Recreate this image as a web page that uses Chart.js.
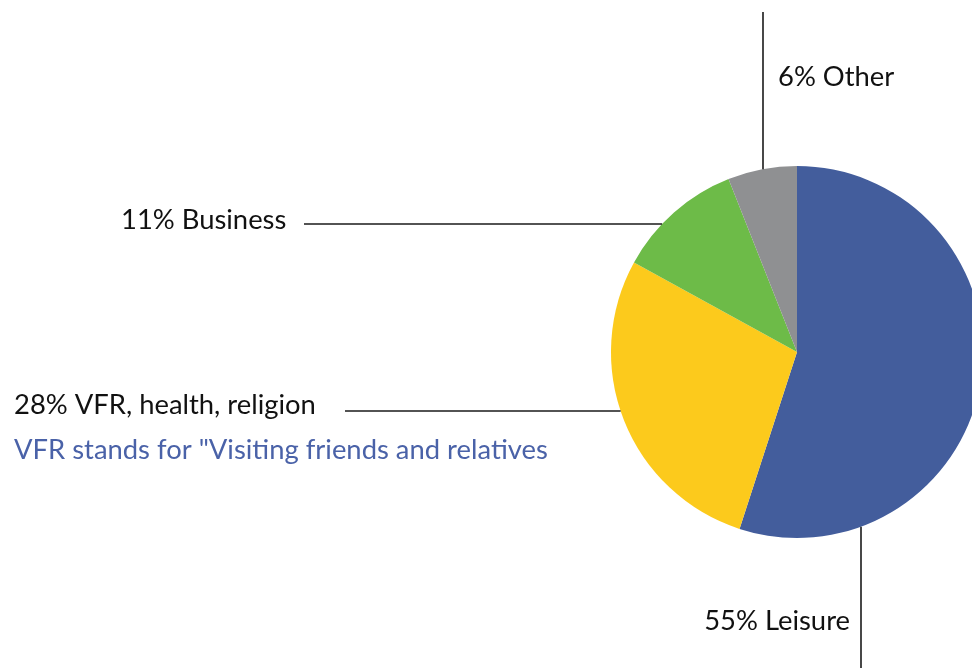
<!DOCTYPE html>
<html lang="en">
<head>
<meta charset="UTF-8">
<title>Purpose of travel</title>
<style>
  html, body { margin: 0; padding: 0; background: #fff; overflow: hidden; }
  .wrap { position: relative; width: 1000px; height: 668px; }
</style>
</head>
<body>
<div class="wrap">
  <canvas id="grafico_pizza" width="1000" height="668"></canvas>
</div>

<script src="https://cdn.jsdelivr.net/npm/chart.js"></script>
<script>
// dados
const categorias = ['Leisure', 'VFR, health, religion', 'Business', 'Other'];
const percentuais = [55, 28, 11, 6];
const cores = ['#435d9c', '#fcca1c', '#6dbb48', '#8f9092'];
const nota = 'VFR stands for "Visiting friends and relatives';

// leader lines: where each line sits and where its text goes
const guias = [
  { dir: 'down',  pos: 861, end: 668, tx: 850, ty: 621, align: 'right' },
  { dir: 'left',  pos: 411, end: 345, tx: 14,  ty: 405, align: 'left' },
  { dir: 'left',  pos: 224, end: 304, tx: 121, ty: 220, align: 'left' },
  { dir: 'up',    pos: 763, end: 12,  tx: 778, ty: 77,  align: 'left' }
];

const fonte = '27.4px Lato, "Open Sans", sans-serif';

const rotulos = {
  id: 'rotulos',
  afterDraw(chart) {
    const c = chart.ctx;
    const arc = chart.getDatasetMeta(0).data[0];
    const cx = arc.x, cy = arc.y, r = arc.outerRadius;
    c.save();
    c.strokeStyle = '#1a1a1a';
    c.lineWidth = 1.6;
    c.font = fonte;
    c.textBaseline = 'middle';
    guias.forEach((g, i) => {
      let x1, y1, x2, y2;
      if (g.dir === 'up' || g.dir === 'down') {
        const d = Math.sqrt(r * r - (g.pos - cx) * (g.pos - cx));
        x1 = x2 = g.pos;
        y1 = g.dir === 'up' ? cy - d : cy + d;
        y2 = g.end;
      } else {
        const d = Math.sqrt(r * r - (g.pos - cy) * (g.pos - cy));
        y1 = y2 = g.pos;
        x1 = cx - d;
        x2 = g.end;
      }
      c.beginPath();
      c.moveTo(x1, y1);
      c.lineTo(x2, y2);
      c.stroke();
      c.fillStyle = '#111';
      c.textAlign = g.align;
      c.fillText(percentuais[i] + '% ' + categorias[i], g.tx, g.ty);
    });
    c.fillStyle = '#4a62a8';
    c.textAlign = 'left';
    c.fillText(nota, 14, 450);
    c.restore();
  }
};

new Chart(document.getElementById('grafico_pizza'), {
  type: 'pie',
  data: {
    labels: categorias,
    datasets: [{
      data: percentuais,
      backgroundColor: cores,
      borderWidth: 0
    }]
  },
  options: {
    responsive: false,
    animation: false,
    layout: { padding: { left: 594, right: 0, top: 166, bottom: 130 } },
    plugins: {
      legend: { display: false },
      tooltip: { enabled: false }
    }
  },
  plugins: [rotulos]
});
</script>
</body>
</html>
